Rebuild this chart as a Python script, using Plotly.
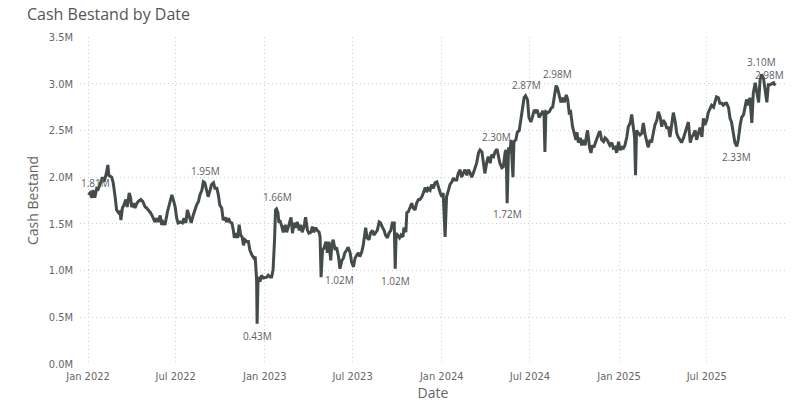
import pandas as pd
import plotly.graph_objects as go

# ---- data ----
start_date = "2022-01-01"
day_offset = [
    1, 4, 8, 10, 14, 18, 21, 26, 30, 33, 37, 41, 43, 49, 52, 56, 59, 63, 66, 68,
    71, 74, 78, 81, 85, 88, 90, 94, 97, 101, 104, 109, 113, 118, 121, 124, 129, 134, 138, 142,
    145, 149, 152, 155, 159, 164, 168, 173, 176, 180, 183, 186, 191, 195, 198, 202, 205, 209, 213, 217,
    221, 224, 228, 231, 235, 238, 241, 245, 248, 252, 255, 259, 262, 266, 269, 272, 276, 279, 283, 286,
    290, 293, 297, 300, 302, 305, 309, 312, 315, 318, 321, 324, 328, 331, 334, 338, 343, 345, 348, 349,
    351, 355, 358, 362, 369, 372, 376, 379, 382, 385, 387, 389, 392, 394, 396, 400, 403, 407, 410, 413,
    417, 419, 422, 425, 429, 432, 436, 439, 442, 446, 449, 453, 456, 460, 463, 466, 470, 473, 477, 479,
    481, 484, 487, 491, 494, 497, 501, 503, 506, 510, 513, 517, 520, 524, 527, 530, 534, 537, 541, 544,
    548, 551, 555, 558, 561, 565, 568, 570, 573, 576, 580, 583, 587, 590, 594, 597, 601, 604, 607, 611,
    614, 618, 621, 625, 628, 632, 634, 636, 639, 643, 646, 650, 652, 656, 658, 661, 665, 668, 671, 675,
    678, 682, 685, 689, 692, 696, 699, 702, 706, 709, 713, 716, 720, 723, 727, 730, 733, 737, 740, 744,
    747, 751, 754, 757, 761, 764, 768, 771, 775, 778, 782, 785, 788, 792, 795, 799, 802, 806, 809, 813,
    816, 819, 823, 826, 830, 833, 837, 840, 844, 847, 850, 854, 857, 861, 863, 865, 868, 871, 873, 877,
    879, 883, 886, 890, 893, 896, 900, 903, 907, 910, 914, 917, 921, 924, 927, 931, 934, 938, 941, 943,
    945, 949, 952, 956, 959, 962, 966, 969, 973, 976, 980, 983, 987, 990, 993, 996, 1000, 1003, 1007, 1009,
    1012, 1016, 1019, 1022, 1026, 1029, 1031, 1035, 1038, 1041, 1044, 1048, 1051, 1055, 1057, 1060, 1064, 1067, 1071, 1074,
    1077, 1081, 1084, 1088, 1091, 1095, 1098, 1102, 1105, 1108, 1112, 1115, 1119, 1122, 1125, 1128, 1130, 1132, 1136, 1139,
    1143, 1146, 1150, 1153, 1156, 1160, 1163, 1167, 1170, 1174, 1177, 1181, 1184, 1187, 1191, 1194, 1198, 1201, 1205, 1208,
    1212, 1215, 1218, 1222, 1225, 1229, 1232, 1236, 1239, 1243, 1246, 1249, 1253, 1256, 1260, 1263, 1267, 1270, 1273, 1277,
    1280, 1284, 1287, 1291, 1294, 1297, 1301, 1304, 1308, 1311, 1315, 1318, 1322, 1325, 1328, 1332, 1335, 1339, 1342, 1346,
    1349, 1353, 1356, 1359, 1363, 1366, 1370, 1373, 1377, 1380, 1384, 1387, 1390, 1394, 1397, 1401, 1404, 1408, 1411, 1415,
    1418,
]
cash_m = [
    1.81, 1.83, 1.78, 1.86, 1.78, 1.88, 1.87, 1.94, 2.00, 1.95, 2.02, 2.13, 2.02, 2.00, 1.94, 1.79, 1.65, 1.62, 1.63, 1.54,
    1.67, 1.70, 1.76, 1.68, 1.83, 1.78, 1.68, 1.72, 1.67, 1.72, 1.74, 1.76, 1.74, 1.68, 1.67, 1.65, 1.62, 1.57, 1.52, 1.56,
    1.52, 1.59, 1.49, 1.52, 1.49, 1.63, 1.72, 1.81, 1.76, 1.68, 1.56, 1.51, 1.52, 1.51, 1.56, 1.51, 1.65, 1.59, 1.51, 1.59,
    1.67, 1.70, 1.74, 1.81, 1.86, 1.95, 1.94, 1.83, 1.79, 1.86, 1.92, 1.94, 1.88, 1.88, 1.81, 1.70, 1.67, 1.54, 1.57, 1.52,
    1.56, 1.52, 1.51, 1.43, 1.35, 1.40, 1.35, 1.49, 1.38, 1.36, 1.27, 1.33, 1.31, 1.31, 1.22, 1.17, 1.13, 1.15, 0.90, 0.43,
    0.93, 0.88, 0.95, 0.92, 0.93, 0.95, 0.93, 0.93, 1.01, 1.33, 1.65, 1.66, 1.62, 1.51, 1.54, 1.47, 1.41, 1.49, 1.41, 1.46,
    1.54, 1.57, 1.40, 1.51, 1.46, 1.52, 1.43, 1.49, 1.41, 1.47, 1.57, 1.43, 1.40, 1.41, 1.47, 1.41, 1.46, 1.43, 1.41, 1.36,
    0.93, 1.22, 1.24, 1.31, 1.19, 1.31, 1.11, 1.27, 1.33, 1.22, 1.25, 1.15, 1.02, 1.11, 1.13, 1.19, 1.22, 1.25, 1.19, 1.09,
    1.04, 1.13, 1.17, 1.19, 1.15, 1.20, 1.27, 1.36, 1.46, 1.35, 1.33, 1.40, 1.43, 1.38, 1.41, 1.43, 1.52, 1.51, 1.47, 1.43,
    1.38, 1.35, 1.40, 1.43, 1.51, 1.51, 1.02, 1.40, 1.38, 1.35, 1.38, 1.36, 1.46, 1.41, 1.62, 1.63, 1.68, 1.72, 1.67, 1.65,
    1.72, 1.76, 1.76, 1.79, 1.83, 1.89, 1.84, 1.88, 1.86, 1.92, 1.88, 1.94, 1.95, 1.89, 1.83, 1.79, 1.83, 1.36, 1.79, 1.86,
    1.92, 1.95, 1.99, 1.97, 1.97, 2.04, 2.08, 2.00, 2.05, 2.08, 2.02, 2.08, 2.05, 2.00, 2.04, 2.11, 2.15, 2.26, 2.29, 2.27,
    2.15, 2.04, 2.16, 2.22, 2.15, 2.24, 2.22, 2.27, 2.30, 2.22, 2.15, 2.10, 2.11, 2.27, 2.29, 1.72, 2.32, 2.26, 2.40, 2.00,
    2.38, 2.40, 2.48, 2.50, 2.61, 2.72, 2.85, 2.87, 2.83, 2.64, 2.59, 2.64, 2.72, 2.70, 2.72, 2.64, 2.67, 2.70, 2.69, 2.27,
    2.70, 2.69, 2.70, 2.74, 2.75, 2.86, 2.98, 2.95, 2.85, 2.80, 2.85, 2.80, 2.88, 2.83, 2.69, 2.70, 2.54, 2.47, 2.40, 2.48,
    2.37, 2.42, 2.34, 2.40, 2.34, 2.45, 2.50, 2.32, 2.26, 2.34, 2.32, 2.38, 2.43, 2.48, 2.48, 2.40, 2.38, 2.42, 2.40, 2.37,
    2.34, 2.37, 2.31, 2.32, 2.26, 2.38, 2.29, 2.32, 2.31, 2.34, 2.43, 2.54, 2.58, 2.67, 2.54, 2.43, 2.02, 2.50, 2.47, 2.45,
    2.47, 2.58, 2.45, 2.38, 2.32, 2.40, 2.37, 2.48, 2.56, 2.61, 2.70, 2.64, 2.54, 2.61, 2.58, 2.53, 2.53, 2.43, 2.59, 2.69,
    2.59, 2.47, 2.43, 2.40, 2.37, 2.42, 2.47, 2.54, 2.59, 2.37, 2.43, 2.45, 2.50, 2.40, 2.48, 2.53, 2.43, 2.63, 2.56, 2.61,
    2.69, 2.74, 2.77, 2.75, 2.80, 2.86, 2.85, 2.79, 2.79, 2.77, 2.79, 2.79, 2.74, 2.63, 2.59, 2.47, 2.37, 2.33, 2.40, 2.56,
    2.64, 2.67, 2.74, 2.83, 2.77, 2.85, 2.58, 2.90, 3.01, 2.91, 2.80, 3.04, 3.10, 3.06, 2.93, 2.80, 2.99, 2.99, 3.00, 3.01,
    2.98,
]

label_days = [1, 238, 349, 389, 520, 634, 844, 865, 903, 966, 1339, 1390, 1418]
label_values = [1.81, 1.95, 0.43, 1.66, 1.02, 1.02, 2.30, 1.72, 2.87, 2.98, 2.33, 3.10, 2.98]
label_texts = ["1.81M", "1.95M", "0.43M", "1.66M", "1.02M", "1.02M", "2.30M", "1.72M",
               "2.87M", "2.98M", "2.33M", "3.10M", "2.98M"]

y_tick_vals = [0.0, 0.5, 1.0, 1.5, 2.0, 2.5, 3.0, 3.5]
y_tick_text = ["0.0M", "0.5M", "1.0M", "1.5M", "2.0M", "2.5M", "3.0M", "3.5M"]

# ---- build ----
base = pd.Timestamp(start_date)
dates = base + pd.to_timedelta(day_offset, unit="D")
label_dates = base + pd.to_timedelta(label_days, unit="D")

LINE = "#434B4B"
GRID = "#CFCFCF"
TXT = "#666666"

fig = go.Figure()
fig.add_trace(go.Scatter(x=dates, y=cash_m, mode="lines",
                         line=dict(color=LINE, width=3), hoverinfo="skip"))

# label offsets (px): above (+) / below (-)
yshifts = [12, 11, -12, 12, -11, -12, 12, -11, 11, 12, -11, 12, 11]
xshifts = [7, 2, 0, 1, 0, 0, 0, 0, 1, 1, 0, 0, -6]
for d, v, t, ys, xs in zip(label_dates, label_values, label_texts, yshifts, xshifts):
    fig.add_annotation(x=d, y=v, text=t, showarrow=False, yshift=ys, xshift=xs,
                       font=dict(family="Open Sans, sans-serif", size=10, color="#606060"))

fig.update_layout(
    width=804, height=407,
    margin=dict(l=80, r=18, t=37, b=43),
    paper_bgcolor="white", plot_bgcolor="white",
    showlegend=False,
    title=dict(text="Cash Bestand by Date", x=27 / 804, xref="container", xanchor="left",
               y=1 - 14 / 407, yref="container", yanchor="middle",
               font=dict(family="Open Sans, sans-serif", size=16, color="#555555")),
)
fig.update_xaxes(
    range=[base - pd.Timedelta(days=16.5), base + pd.Timedelta(days=1440.5)],
    tick0=start_date, dtick="M6", tickformat="%b %Y", automargin=False,
    showgrid=True, gridcolor=GRID, griddash="1px,3px", gridwidth=1,
    zeroline=False, showline=False, ticks="", ticklabelstandoff=4,
    tickfont=dict(family="DejaVu Sans Condensed, sans-serif", size=11, color=TXT),
    title=dict(text="Date", font=dict(family="Open Sans, sans-serif", size=14, color=TXT),
               standoff=4),
)
fig.update_yaxes(
    range=[0, 3.5], tickvals=y_tick_vals, ticktext=y_tick_text, automargin=False,
    showgrid=True, gridcolor=GRID, griddash="1px,3px", gridwidth=1,
    zeroline=False, showline=False, ticks="", ticklabelstandoff=6,
    tickfont=dict(family="DejaVu Sans Condensed, sans-serif", size=11, color=TXT),
    title=dict(text="Cash Bestand", font=dict(family="Open Sans, sans-serif", size=14, color=TXT),
               standoff=6),
)

fig.write_html("out.html")
